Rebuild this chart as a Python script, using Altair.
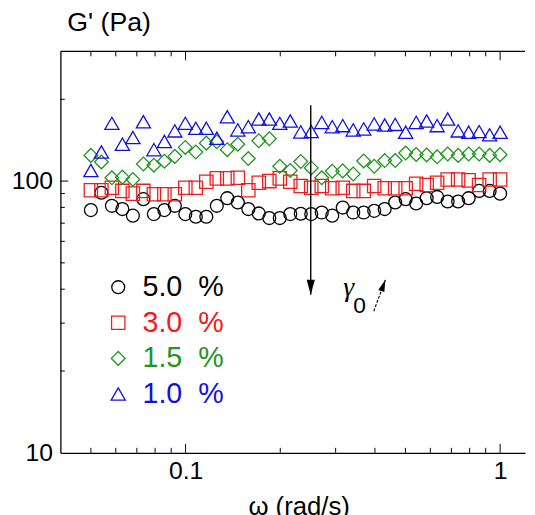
import altair as alt
import pandas as pd

# ---------------- data ----------------
omega = [0.05, 0.054, 0.05831, 0.06297, 0.068, 0.07343, 0.0793, 0.08563, 0.09243, 0.09982,
         0.1078, 0.1164, 0.1257, 0.1357, 0.1466, 0.1583, 0.1709, 0.1846, 0.1993, 0.2152,
         0.2324, 0.2509, 0.271, 0.2926, 0.316, 0.3412, 0.3684, 0.3978, 0.4296, 0.4639,
         0.5009, 0.5409, 0.5841, 0.6307, 0.6811, 0.7355, 0.7942, 0.8576, 0.9261, 1.0]

g_50 = [78.2, 90.6, 81.1, 78.9, 74.6, 85.8, 75.6, 78.2, 81.1, 75.6,
        73.9, 73.9, 81.1, 86.5, 83.4, 78.9, 76.0, 73.1, 73.1, 75.6,
        75.8, 75.6, 76.6, 74.6, 79.9, 76.6, 76.6, 77.7, 78.9, 83.4,
        85.8, 82.7, 86.5, 87.4, 84.1, 84.1, 86.5, 92.0, 92.0, 89.9]
g_30 = [92.5, 92.5, 94.5, 92.0, 89.9, 92.0, 89.4, 89.4, 89.4, 94.5,
        94.5, 99.4, 102.3, 102.3, 102.8, 92.5, 98.6, 100.0, 102.3, 99.4,
        95.9, 94.5, 95.9, 94.1, 94.5, 92.0, 92.0, 95.9, 94.1, 94.1,
        94.1, 97.8, 96.7, 98.6, 101.4, 101.4, 100.6, 96.7, 101.4, 101.4]
g_15 = [124.3, 117.6, 102.8, 103.4, 101.4, 115.6, 114.4, 118.3, 123.3, 133.0,
        127.9, 137.9, 139.5, 130.5, 136.7, 121.0, 140.7, 143.1, 113.4, 109.4,
        118.0, 111.8, 102.8, 108.7, 109.0, 106.2, 118.6, 113.4, 119.0, 119.0,
        126.8, 125.3, 124.8, 122.8, 125.8, 124.3, 125.8, 125.8, 124.3, 125.1]
g_10 = [109.4, 127.9, 163.1, 136.7, 144.6, 165.4, 130.5, 139.9, 153.0, 163.1,
        156.4, 156.4, 143.8, 172.5, 154.3, 158.6, 169.2, 169.2, 163.1, 166.4,
        151.7, 152.1, 164.4, 158.6, 160.0, 154.3, 155.6, 162.3, 160.9, 161.7,
        151.2, 164.4, 166.4, 160.0, 169.2, 153.0, 151.2, 152.1, 148.0, 151.2]

series_names = ["5.0\u00a0\u00a0%", "3.0\u00a0\u00a0%", "1.5\u00a0\u00a0%", "1.0\u00a0\u00a0%"]
series_values = [g_50, g_30, g_15, g_10]
series_colors = ["#000000", "#ee1c1c", "#1f961f", "#1010e6"]
series_shapes = ["circle", "square", "diamond", "triangle-up"]
series_sizes = [170, 205, 140, 130]

x_label_values = [0.1, 1]
y_label_values = [10, 100]
x_major_ticks = [0.1, 1]
x_minor_ticks = [0.05, 0.06, 0.07, 0.08, 0.09, 0.2, 0.3, 0.4, 0.5, 0.6, 0.7, 0.8, 0.9]
y_major_ticks = [100]
y_minor_ticks = [20, 30, 40, 50, 60, 70, 80, 90, 200]

# annotation
arrow_x = [0.25]
arrow_top = [190]
arrow_tip = [38.2]
gamma_text = ["\u03b3"]
gamma_x = [0.33]
gamma_y = [37.9]
sub_text = ["0"]
sub_x = [0.3576]
sub_y = [32.8]
small_arrow_x = [0.3966, 0.4317]
small_arrow_y = [33.2, 43.3]

W, H = 470, 406
FONT = "Liberation Sans"

rows = []
for name, vals in zip(series_names, series_values):
    for w, g in zip(omega, vals):
        rows.append({"series": name, "omega": w, "G": g})
df = pd.DataFrame(rows)

xs = alt.Scale(type="log", domain=[0.04, 1.2], nice=False)
ys = alt.Scale(type="log", domain=[10, 300], nice=False)

legend = alt.Legend(
    title=None, orient="none", legendX=44, legendY=224,
    labelFontSize=29, labelFont=FONT,
    labelColor={"expr": "scale('color', datum.value)"},
    symbolSize=175, symbolStrokeWidth=1.3, rowPadding=6, labelOffset=10, padding=0,
)

x_axis = alt.Axis(
    values=x_label_values, format="~g", title="\u03c9 (rad/s)", ticks=False, grid=False,
    labelFontSize=25, labelFont=FONT, labelPadding=6, labelColor="black",
    domainColor="black", domainWidth=1.3,
    titleFontSize=26, titleFont=FONT, titleFontWeight="normal", titleColor="black",
    titleX=241, titleY=62, titleBaseline="alphabetic", titleAlign="center")
y_axis = alt.Axis(
    values=y_label_values, format="d", title="", ticks=False, grid=False,
    labelFontSize=25, labelFont=FONT, labelPadding=8, labelColor="black",
    domainColor="black", domainWidth=1.3)

points = alt.Chart(df).mark_point(filled=False, strokeWidth=1.3, opacity=1).encode(
    x=alt.X("omega:Q", scale=xs, axis=x_axis),
    y=alt.Y("G:Q", scale=ys, axis=y_axis),
    color=alt.Color("series:N", scale=alt.Scale(domain=series_names, range=series_colors), legend=legend),
    shape=alt.Shape("series:N", scale=alt.Scale(domain=series_names, range=series_shapes), legend=legend),
    size=alt.Size("series:N", scale=alt.Scale(domain=series_names, range=series_sizes), legend=None),
)

def X(field):
    return alt.X(field, scale=xs, axis=x_axis)

def Y(field):
    return alt.Y(field, scale=ys, axis=y_axis)

def xticks(vals, length):
    d = pd.DataFrame({"v": vals})
    base = alt.Chart(d).mark_rule(color="black", strokeWidth=1)
    bottom = base.encode(x=X("v:Q"), y=alt.value(H), y2=alt.value(H - length))
    top = base.encode(x=X("v:Q"), y=alt.value(0), y2=alt.value(length))
    return [bottom, top]

def yticks(vals, length):
    d = pd.DataFrame({"v": vals})
    return [alt.Chart(d).mark_rule(color="black", strokeWidth=1).encode(
        y=Y("v:Q"), x=alt.value(0), x2=alt.value(length))]

top_frame = alt.Chart(pd.DataFrame({"v": [0]})).mark_rule(color="black", strokeWidth=1.3).encode(
    x=alt.value(0), x2=alt.value(W), y=alt.value(0))

adf = pd.DataFrame({"x": arrow_x, "top": arrow_top, "tip": arrow_tip})
arrow_line = alt.Chart(adf).mark_rule(color="black", strokeWidth=1.4).encode(
    x=X("x:Q"), y=Y("top:Q"), y2="tip:Q")
arrow_head = alt.Chart(adf).mark_point(
    shape="M-0.55,-2L0.55,-2L0,0Z", filled=True, color="black", size=225, opacity=1).encode(
    x=X("x:Q"), y=Y("tip:Q"))

gdf = pd.DataFrame({"t": gamma_text, "x": gamma_x, "y": gamma_y})
gamma = alt.Chart(gdf).mark_text(font="Liberation Serif", fontSize=28, fontStyle="italic", color="black",
                                 align="center", baseline="alphabetic").encode(
    x=X("x:Q"), y=Y("y:Q"), text="t:N")
sdf = pd.DataFrame({"t": sub_text, "x": sub_x, "y": sub_y})
sub = alt.Chart(sdf).mark_text(font=FONT, fontSize=23, color="black",
                               align="center", baseline="alphabetic").encode(
    x=X("x:Q"), y=Y("y:Q"), text="t:N")

small_df = pd.DataFrame({"x": small_arrow_x, "y": small_arrow_y})
small_line = alt.Chart(small_df).mark_line(color="black", strokeWidth=1.1, strokeDash=[3, 1.5]).encode(
    x=X("x:Q"), y=Y("y:Q"))
small_head = alt.Chart(small_df.tail(1)).mark_point(
    shape="M0,0L-0.55,2L0.55,2Z", filled=True, color="black", size=144, angle=20, opacity=1).encode(
    x=X("x:Q"), y=Y("y:Q"))

layers = ([top_frame, points] + xticks(x_major_ticks, 9) + xticks(x_minor_ticks, 5) +
          yticks(y_major_ticks, 8) + yticks(y_minor_ticks, 4.5) +
          [arrow_line, arrow_head, gamma, sub, small_line, small_head])

chart = alt.layer(*layers).properties(
    width=W, height=H,
    title=alt.Title("G' (Pa)", anchor="start", frame="group", fontSize=27, font=FONT,
                    fontWeight="normal", color="black", dx=7, offset=14),
    autosize=alt.AutoSizeParams(type="none"),
    padding={"left": 53, "top": 41, "right": 2, "bottom": 60},
).configure_view(strokeWidth=0)

chart.save("out.html", embed_options={"renderer": "svg", "actions": False})
